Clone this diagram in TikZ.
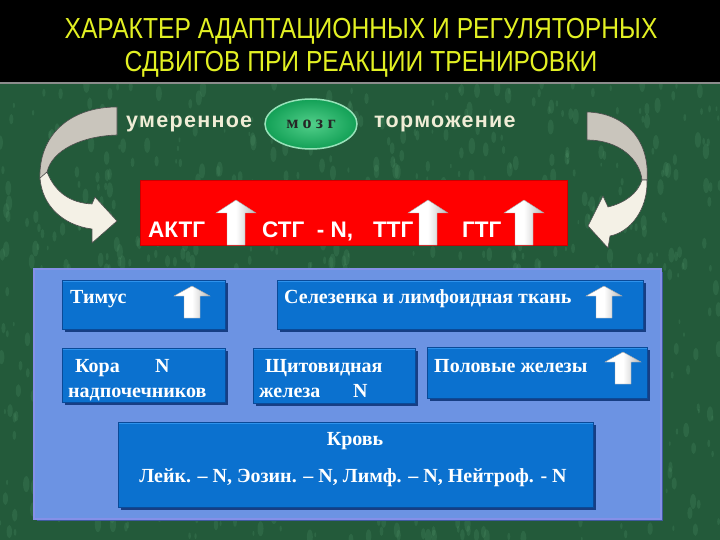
\documentclass[tikz,border=0pt]{standalone}
\usepackage{fontspec}
\setmainfont{Liberation Serif}
\newfontfamily\sansf{Liberation Sans}
\newfontfamily\titlef[FakeStretch=0.85]{Liberation Sans}
\newfontfamily\spacedf[LetterSpace=6]{Liberation Sans}
\newfontfamily\brainf[LetterSpace=24]{Liberation Serif}
\usetikzlibrary{shapes.geometric,shadows}
\definecolor{bggreen}{HTML}{235A3A}
\definecolor{bglight}{HTML}{4E9066}
\definecolor{titleyellow}{HTML}{E2F023}
\definecolor{cream}{HTML}{F0EDD6}
\definecolor{arrgray}{HTML}{C9C5BC}
\definecolor{arrcream}{HTML}{F4F1E6}
\definecolor{panelblue}{HTML}{6C93E3}
\definecolor{panelrim}{HTML}{8590E8}
\definecolor{panelshadow}{HTML}{3F5AA0}
\definecolor{boxblue}{HTML}{0B71CF}
\definecolor{boxlight}{HTML}{2E92EC}
\definecolor{boxdark}{HTML}{0A4A98}
\definecolor{boxshadow}{HTML}{173E84}
\definecolor{brainfill}{HTML}{12A056}
\definecolor{brainlight}{HTML}{52CF8A}
\newcommand\blockup[6]{%
  \shade[left color=white, right color=black!28, middle color=white, draw=black!35, line width=0.4pt]
  ({#1-#5},#3) -- ({#1-#5},{#2+#6}) -- ({#1-#4},{#2+#6}) -- (#1,#2) -- ({#1+#4},{#2+#6}) -- ({#1+#5},{#2+#6}) -- ({#1+#5},#3) -- cycle;}
\tikzset{
  titletext/.style={text=titleyellow, font=\titlef\fontsize{29}{31}\selectfont, inner sep=0},
  toptext/.style={text=cream, font=\spacedf\bfseries\fontsize{21.5}{24}\selectfont, inner sep=0, anchor=base west},
  redtext/.style={text=white, font=\sansf\bfseries\fontsize{22.5}{24}\selectfont, inner sep=0, anchor=base west},
  bluetext/.style={text=white, font=\bfseries\fontsize{20}{22}\selectfont, inner sep=0, anchor=base west},
  bbox/.style={rectangle, anchor=north west, inner sep=0, fill=boxblue, draw=boxdark, line width=1.2pt,
    drop shadow={shadow xshift=2pt, shadow yshift=-2pt, fill=boxshadow, opacity=1},
    path picture={\draw[boxlight, line width=3pt] (path picture bounding box.north west) -- (path picture bounding box.north east);}},
  curvarrow/.style={draw=black!70, line width=0.6pt, line join=round}
}
\begin{document}
\begin{tikzpicture}[x=1pt,y=-1pt]
\useasboundingbox (0,0) rectangle (720,540);
% background
\fill[bggreen] (0,83) rectangle (720,540);
\pgfmathsetseed{7}
\foreach \i in {1,...,900}{
  \pgfmathsetmacro{\px}{rnd*720}
  \pgfmathsetmacro{\py}{83+rnd*457}
  \pgfmathsetmacro{\rr}{0.8+rnd*2.5}
  \fill[bglight, opacity=0.25] (\px,\py) ellipse ({\rr pt} and {2.5*\rr pt});
}
\fill[black] (0,0) rectangle (720,83);
\draw[black!45, line width=1.2pt] (0,83) -- (720,83);
% title
\node[titletext] (t1) at (361,31) {ХАРАКТЕР АДАПТАЦИОННЫХ И РЕГУЛЯТОРНЫХ};
\node[titletext] (t2) at (361,64) {СДВИГОВ ПРИ РЕАКЦИИ ТРЕНИРОВКИ};
% top row
\node[toptext] (moder) at (126,128) {умеренное};
\node[toptext] (torm) at (374,128) {торможение};
\node[ellipse, minimum width=92pt, minimum height=50pt, inner color=brainlight, outer color=brainfill,
  draw=brainlight!60!white, line width=1.5pt, text=black!85, font=\brainf\bfseries\fontsize{18}{20}\selectfont] (brain) at (311,124) {мозг};
% left curved arrow
\fill[arrgray, curvarrow] (117,107) -- (117,135) .. controls (82,136) and (52,150) .. (47,172) -- (40,180) .. controls (38,135) and (70,107) .. (117,107) -- cycle;
\fill[arrcream, curvarrow] (40,178) .. controls (42,205) and (62,225) .. (92,229) -- (92,243) -- (117,221) -- (95,197) -- (92,204) .. controls (70,203) and (55,192) .. (47,172) -- cycle;
% right curved arrow
\fill[arrgray, curvarrow] (587,112) .. controls (625,113) and (650,140) .. (647,180) -- (642,180) .. controls (640,160) and (620,140) .. (587,140) -- cycle;
\fill[arrcream, curvarrow] (647,180) .. controls (648,210) and (630,232) .. (610,236) -- (608,248) -- (588,226) -- (603,196) -- (608,207) .. controls (625,203) and (638,193) .. (642,180) -- cycle;
% red box
\node[rectangle, anchor=north west, minimum width=427pt, minimum height=65pt, fill=red, draw=red!80!black, line width=1pt, inner sep=0] (redbox) at (140,180) {};
\node[redtext] (aktg) at (148,237) {АКТГ};
\node[redtext] (stg) at (262,237) {СТГ\ \ - N,};
\node[redtext] (ttg) at (373,237) {ТТГ};
\node[redtext] (gtg) at (462,237) {ГТГ};
\blockup{236}{200}{245}{20}{9}{13}
\blockup{428}{200}{245}{20}{9}{13}
\blockup{524}{200}{245}{20}{9}{13}
% blue panel
\fill[panelshadow] (37,272) rectangle (663,521);
\node[rectangle, anchor=north west, minimum width=627pt, minimum height=250pt, fill=panelblue, draw=panelrim, line width=2pt, inner sep=0] (panel) at (33,268) {};
% boxes
\node[bbox, minimum width=163pt, minimum height=49pt] (thymus) at (62,280) {};
\node[bbox, minimum width=366pt, minimum height=49pt] (spleen) at (277,280) {};
\node[bbox, minimum width=163pt, minimum height=54pt] (cortex) at (62,348) {};
\node[bbox, minimum width=162pt, minimum height=55pt] (thyroid) at (253,348) {};
\node[bbox, minimum width=220pt, minimum height=51pt] (gonads) at (427,347) {};
\node[bbox, minimum width=475pt, minimum height=85pt] (blood) at (118,422) {};
% box texts
\node[bluetext] (thymusT) at (70,303) {Тимус};
\node[bluetext] (spleenT) at (284,303) {Селезенка и лимфоидная ткань};
\node[bluetext] (cortexT1) at (75,372) {\makebox[80pt][l]{Кора}N};
\node[bluetext] (cortexT2) at (68,397) {надпочечников};
\node[bluetext] (thyroidT1) at (265,372) {Щитовидная};
\node[bluetext] (thyroidT2) at (259,397) {\makebox[94pt][l]{железа}N};
\node[bluetext] (gonadsT) at (434,372) {Половые железы};
\node[bluetext, anchor=base] (bloodT1) at (355,445) {Кровь};
\node[bluetext, anchor=base] (bloodT2) at (353,482) {Лейк. – N, Эозин. – N, Лимф. – N, Нейтроф. - N};
% small arrows
\blockup{192}{286}{318}{18}{8}{10}
\blockup{604}{286}{318}{18}{8}{10}
\blockup{623}{352}{384}{18}{8}{10}
\end{tikzpicture}
\end{document}
